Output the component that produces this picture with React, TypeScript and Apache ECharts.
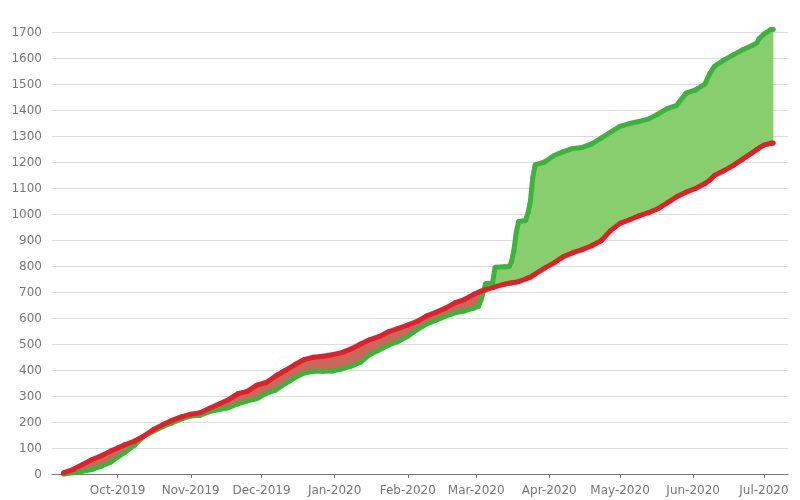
import React, { useEffect, useRef } from "react";
import * as echarts from "echarts";

const dates = [
  "2019-09-08", "2019-09-12", "2019-09-16", "2019-09-20", "2019-09-24", "2019-09-28",
  "2019-10-01", "2019-10-04", "2019-10-08", "2019-10-12", "2019-10-16", "2019-10-20", "2019-10-24", "2019-10-28",
  "2019-11-01", "2019-11-05", "2019-11-09", "2019-11-13", "2019-11-17", "2019-11-21", "2019-11-25", "2019-11-29",
  "2019-12-03", "2019-12-07", "2019-12-11", "2019-12-15", "2019-12-19", "2019-12-23", "2019-12-27", "2019-12-31",
  "2020-01-04", "2020-01-08", "2020-01-12", "2020-01-16", "2020-01-20", "2020-01-24", "2020-01-28",
  "2020-02-01", "2020-02-05", "2020-02-09", "2020-02-13", "2020-02-17", "2020-02-21", "2020-02-25", "2020-02-29",
  "2020-03-02", "2020-03-03", "2020-03-05", "2020-03-08", "2020-03-09", "2020-03-13", "2020-03-15", "2020-03-16",
  "2020-03-17", "2020-03-18", "2020-03-19", "2020-03-22", "2020-03-23", "2020-03-24", "2020-03-25", "2020-03-26", "2020-03-30",
  "2020-04-03", "2020-04-07", "2020-04-11", "2020-04-15", "2020-04-19", "2020-04-23", "2020-04-27",
  "2020-05-01", "2020-05-05", "2020-05-09", "2020-05-13", "2020-05-17", "2020-05-21", "2020-05-25", "2020-05-29",
  "2020-06-02", "2020-06-06", "2020-06-08", "2020-06-10", "2020-06-14", "2020-06-18", "2020-06-22", "2020-06-26", "2020-06-28", "2020-06-29",
  "2020-07-01", "2020-07-04", "2020-07-05",
];

const redValues = [
  4, 17, 36, 55, 70, 88,
  100, 112, 126, 145, 170, 189, 206, 220,
  230, 236, 253, 269, 286, 309, 318, 342,
  352, 377, 398, 420, 440, 449, 453, 459,
  467, 481, 500, 517, 529, 548, 560,
  573, 587, 608, 622, 638, 658, 671, 691,
  699, 703, 709, 717, 720, 730, 734, 735, 737, 738, 740, 750, 754, 757, 763, 769, 792,
  812, 836, 851, 863, 878, 897, 936,
  964, 978, 993, 1005, 1020, 1043, 1066, 1084,
  1098, 1117, 1130, 1148, 1166, 1187, 1211, 1235, 1248, 1254,
  1265, 1272, 1273,
];

const greenValues = [
  0, 5, 10, 17, 30, 45,
  65, 83, 110, 145, 164, 182, 196, 212,
  223, 226, 240, 248, 255, 270, 281, 290,
  310, 323, 347, 370, 388, 395, 395, 396,
  404, 415, 430, 460, 478, 496, 510,
  530, 555, 577, 592, 607, 620, 627, 638,
  645, 668, 732, 736, 795, 797, 798, 817, 860, 930, 971, 975, 1005, 1050, 1140, 1189, 1200,
  1225, 1240, 1252, 1256, 1270, 1292, 1315,
  1337, 1348, 1356, 1365, 1384, 1405, 1418, 1465,
  1477, 1500, 1540, 1568, 1592, 1612, 1632, 1648, 1658, 1675,
  1692, 1710, 1710,
];

const MONTHS = ["Jan", "Feb", "Mar", "Apr", "May", "Jun", "Jul", "Aug", "Sep", "Oct", "Nov", "Dec"];

const GREEN_LINE = "#3cb43c";
const GREEN_FILL = "#88cd6e";
const RED_LINE = "#e0202b";
const RED_FILL = "#c8685a";
const FONT = "DejaVu Sans";

export default function App() {
  const ref = useRef<HTMLDivElement>(null);

  useEffect(() => {
    if (!ref.current) return;
    const chart = echarts.init(ref.current, null, { renderer: "svg" });

    const base = dates.map((d, i) => [d, Math.min(greenValues[i], redValues[i])]);
    const greenBand = dates.map((d, i) => [d, Math.max(greenValues[i] - redValues[i], 0)]);
    const redBand = dates.map((d, i) => [d, Math.max(redValues[i] - greenValues[i], 0)]);

    chart.setOption({
      animation: false,
      grid: { left: 52, right: 12, top: 32, bottom: 26 },
      xAxis: {
        type: "time",
        min: new Date(2019, 8, 3, 4).getTime(),
        max: new Date(2020, 6, 11, 5).getTime(),
        splitNumber: 10,
        minInterval: 28 * 864e5,
        maxInterval: 31 * 864e5,
        offset: 4,
        axisLine: { lineStyle: { color: "#777", width: 1 } },
        axisTick: { show: true, length: 4, lineStyle: { color: "#777" } },
        splitLine: { show: false },
        axisLabel: {
          formatter: (v: number) => {
            const d = new Date(v);
            return MONTHS[d.getMonth()] + "-" + d.getFullYear();
          },
          color: "#777",
          fontSize: 12,
          fontFamily: FONT,
          margin: 6,
        },
      },
      yAxis: {
        type: "value",
        min: 0,
        max: 1700,
        interval: 100,
        axisLine: { show: false },
        axisTick: { show: false },
        splitLine: { lineStyle: { color: "#dddddd", width: 1 } },
        axisLabel: {
          color: "#777",
          fontSize: 12,
          fontFamily: FONT,
          margin: 10,
          formatter: (v: number) => String(v),
        },
      },
      series: [
        {
          type: "line",
          stack: "band",
          data: base,
          symbol: "none",
          lineStyle: { width: 0, opacity: 0 },
          silent: true,
        },
        {
          type: "line",
          stack: "band",
          data: greenBand,
          symbol: "none",
          lineStyle: { width: 0, opacity: 0 },
          areaStyle: { color: GREEN_FILL, opacity: 1 },
          silent: true,
        },
        {
          type: "line",
          stack: "band",
          data: redBand,
          symbol: "none",
          lineStyle: { width: 0, opacity: 0 },
          areaStyle: { color: RED_FILL, opacity: 1 },
          silent: true,
        },
        {
          type: "line",
          data: dates.map((d, i) => [d, greenValues[i]]),
          symbol: "circle",
          symbolSize: 5,
          showSymbol: true,
          clip: false,
          lineStyle: { color: GREEN_LINE, width: 5 },
          itemStyle: { color: GREEN_LINE },
          z: 3,
        },
        {
          type: "line",
          data: dates.map((d, i) => [d, redValues[i]]),
          symbol: "circle",
          symbolSize: 5,
          showSymbol: true,
          clip: false,
          lineStyle: { color: RED_LINE, width: 5 },
          itemStyle: { color: RED_LINE },
          z: 4,
        },
      ],
    });

    return () => chart.dispose();
  }, []);

  return (
    <div
      ref={ref}
      style={{ position: "fixed", left: 0, top: 0, width: 800, height: 500 }}
    />
  );
}
